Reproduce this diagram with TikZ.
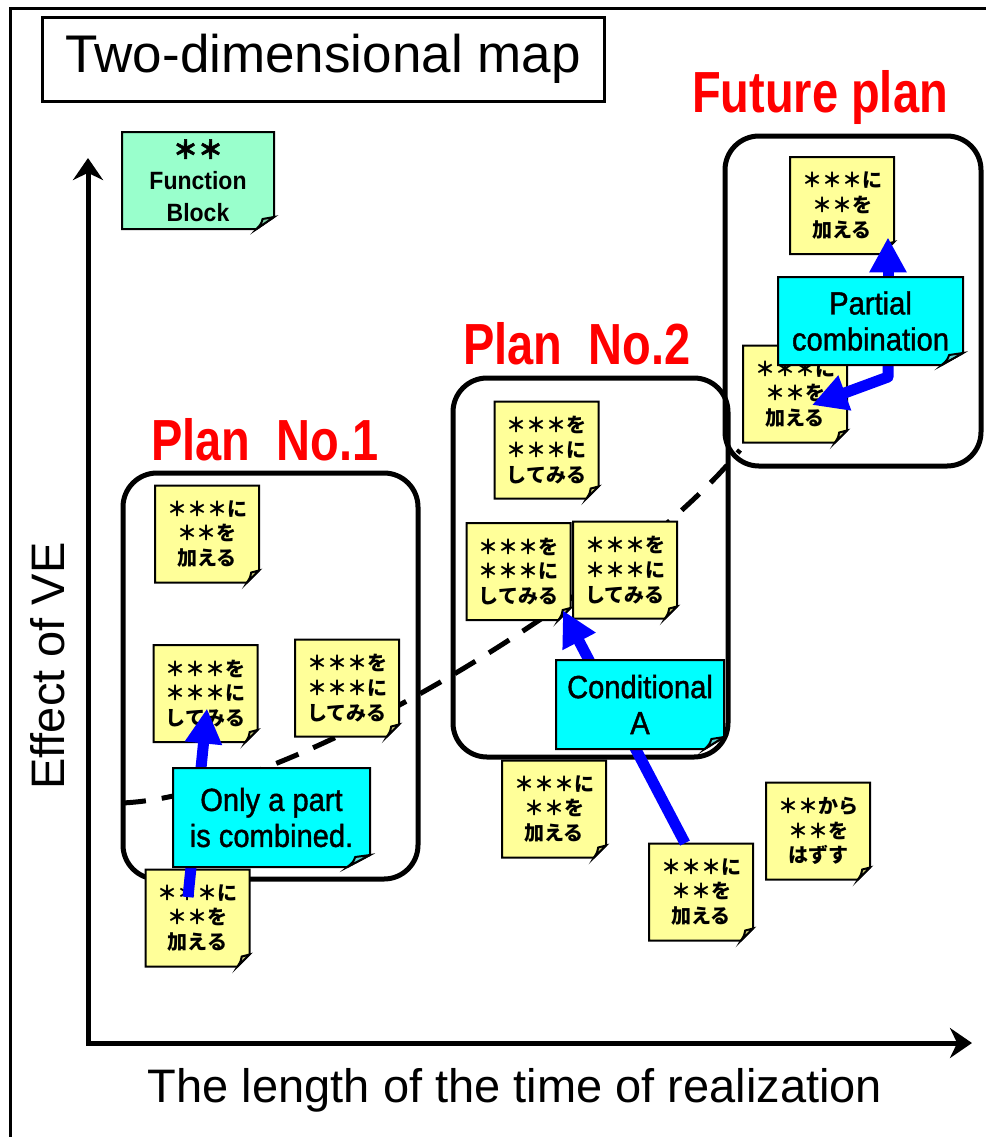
\documentclass[tikz,border=0pt]{standalone}
\usepackage{fontspec}
\setmainfont{Liberation Sans}
\newfontfamily\jpfont{Noto Sans CJK JP}
\newfontfamily\starfont[FakeBold=2.5]{Noto Sans CJK JP}
\newfontfamily\planfont[FakeStretch=0.81]{Liberation Sans}
\newfontfamily\boxfont[FakeStretch=0.91,FakeBold=1.2]{Liberation Sans}
\newfontfamily\blockfont[FakeStretch=0.92]{Liberation Sans}
\usetikzlibrary{arrows.meta}

\definecolor{yel}{RGB}{255,255,153}
\definecolor{yelfold}{RGB}{204,204,122}
\definecolor{cyn}{RGB}{0,255,255}
\definecolor{cynfold}{RGB}{90,210,210}
\definecolor{grn}{RGB}{153,255,204}
\definecolor{grnfold}{RGB}{122,204,163}
\definecolor{moveblue}{RGB}{0,0,255}

\tikzset{
	notebody/.style={draw=black, line width=1pt},
	yeltext/.style={inner sep=0, align=center, font={\jpfont\bfseries\fontsize{10pt}{12.3pt}\selectfont}},
	cyntext/.style={inner sep=0, align=center, font={\boxfont\fontsize{16pt}{18pt}\selectfont}},
	grntext/.style={inner sep=0, align=center, font={\blockfont\bfseries\fontsize{12.5pt}{15.7pt}\selectfont}},
}

% sticky note: [colour]{name}{cx}{cy}{width}{height}{text}
\newcommand{\sticky}[7][yel]{%
	\filldraw[notebody, fill=#1] ({#3-#5/2},{#4-#6/2}) -- ({#3+#5/2},{#4-#6/2})
		-- ({#3+#5/2},{#4+#6/2-12}) -- ({#3+#5/2-0.115*#5},{#4+#6/2}) -- ({#3-#5/2},{#4+#6/2}) -- cycle;
	\filldraw[notebody, fill=#1fold] ({#3+#5/2},{#4+#6/2-12}) -- ({#3+#5/2-0.075*#5},{#4+#6/2-10})
		.. controls ({#3+#5/2-0.085*#5},{#4+#6/2-5}) .. ({#3+#5/2-0.115*#5},{#4+#6/2}) -- cycle;
	\node[#1text, minimum width=#5*0.5pt, minimum height=#6*0.5pt] (#2) at (#3,#4) {#7};
}

\begin{document}
\begin{tikzpicture}
	[x=0.5pt, y=-0.5pt,
	planbox/.style={draw, line width=2.5pt, rounded corners=17pt, inner sep=0},
	planlabel/.style={text=red, anchor=base, font={\planfont\bfseries\fontsize{29pt}{34pt}\selectfont}},
	axis/.style={line width=2.5pt, {Stealth[width=15pt,length=11pt]}-{Stealth[width=15pt,length=11pt]}},
	move/.style={draw=moveblue, line width=5.5pt, line join=round, -{Triangle[width=17.5pt,length=17.5pt]}},
	trend/.style={line width=2.5pt, dash pattern=on 12pt off 8pt}]
	\useasboundingbox (0,0) rectangle (986,1137);
	\draw[line width=1.5pt] (10,1137) -- (10,8) -- (986,8);
	\node[draw, line width=1.5pt, minimum width=281pt, minimum height=42pt,
		font={\fontsize{26.5pt}{30pt}\selectfont}] (title) at (323,59) {Two-dimensional map};
	
	% axes
	\coordinate (origin) at (88,1043);
	\coordinate (ytip) at (88,158);
	\coordinate (xtip) at (972,1043);
	\draw[axis] (ytip) -- (origin) -- (xtip);
	\node[anchor=base, font={\fontsize{23.5pt}{28pt}\selectfont}] (xlabel) at (515,1102) {The length of the time of realization};
	\node[anchor=base, rotate=90, font={\fontsize{23.5pt}{28pt}\selectfont}] (ylabel) at (64,666) {Effect of VE};
	
	% trend line
	\coordinate (tstart) at (122,803);
	\coordinate (tend) at (740,450);
	\draw[trend] (tstart) .. controls (300,795) and (640,575) .. (tend);
	
	% plans
	\node[planbox, minimum width=147.5pt, minimum height=203pt] (plan1) at (270.5,676) {};
	\node[planbox, minimum width=137.5pt, minimum height=189.5pt] (plan2) at (590.5,567.5) {};
	\node[planbox, minimum width=128pt, minimum height=165pt] (future) at (853,301) {};
	\node[planlabel] (plan1label) at (265,460) {Plan\ \ No.1};
	\node[planlabel] (plan2label) at (577,364) {Plan\ \ No.2};
	\node[planlabel] (futurelabel) at (820,112) {Future plan};
	
	% notes
	\sticky[grn]{fblock}{198}{180.5}{152}{97}{{\starfont ＊＊}\\Function\\Block}
	\sticky{n1a}{207}{534}{104}{97}{＊＊＊に\\＊＊を\\加える}
	\sticky{n1b}{205.5}{693.5}{104}{97}{＊＊＊を\\＊＊＊に\\してみる}
	\sticky{n1c}{347}{688}{104}{97}{＊＊＊を\\＊＊＊に\\してみる}
	\sticky{n1d}{197.5}{918}{104}{97}{＊＊＊に\\＊＊を\\加える}
	\sticky{n2a}{546.5}{450}{104}{97}{＊＊＊を\\＊＊＊に\\してみる}
	\sticky{n2b}{518.5}{571.5}{104}{97}{＊＊＊を\\＊＊＊に\\してみる}
	\sticky{n2c}{625}{570}{104}{97}{＊＊＊を\\＊＊＊に\\してみる}
	\sticky{n2d}{554}{809}{104}{97}{＊＊＊に\\＊＊を\\加える}
	\sticky{n2e}{701}{892}{104}{97}{＊＊＊に\\＊＊を\\加える}
	\sticky{n2f}{818}{831}{104}{97}{＊＊から\\＊＊を\\はずす}
	\sticky{n3a}{842}{205.5}{104}{97}{＊＊＊に\\＊＊を\\加える}
	\sticky{n3b}{795}{394}{104}{97}{＊＊＊に\\＊＊を\\加える}
	
	% moves
	\draw[move] ([shift={(-9.5,28)}]n1d.north) -- ([shift={(1.5,15)}]n1b.center);
	\draw[move] ([shift={(-16,0)}]n2e.north) -- ([shift={(-8,-10)}]n2b.south east);
	\draw[move] ([shift={(46,45)}]n3a.south) -- ([shift={(46,-17)}]n3a.south);
	\draw[move] ([shift={(93,-29)}]n3b.center) -- ([shift={(93,-17)}]n3b.center) -- ([shift={(17,11)}]n3b.center);
	
	% comments
	\sticky[cyn]{onlypart}{271.5}{817.5}{197}{99}{Only a part\\is combined.}
	\sticky[cyn]{condA}{640}{704.5}{168}{89}{Conditional\\A}
	\sticky[cyn]{partial}{870.5}{321}{185}{88}{Partial\\combination}
\end{tikzpicture}
\end{document}
